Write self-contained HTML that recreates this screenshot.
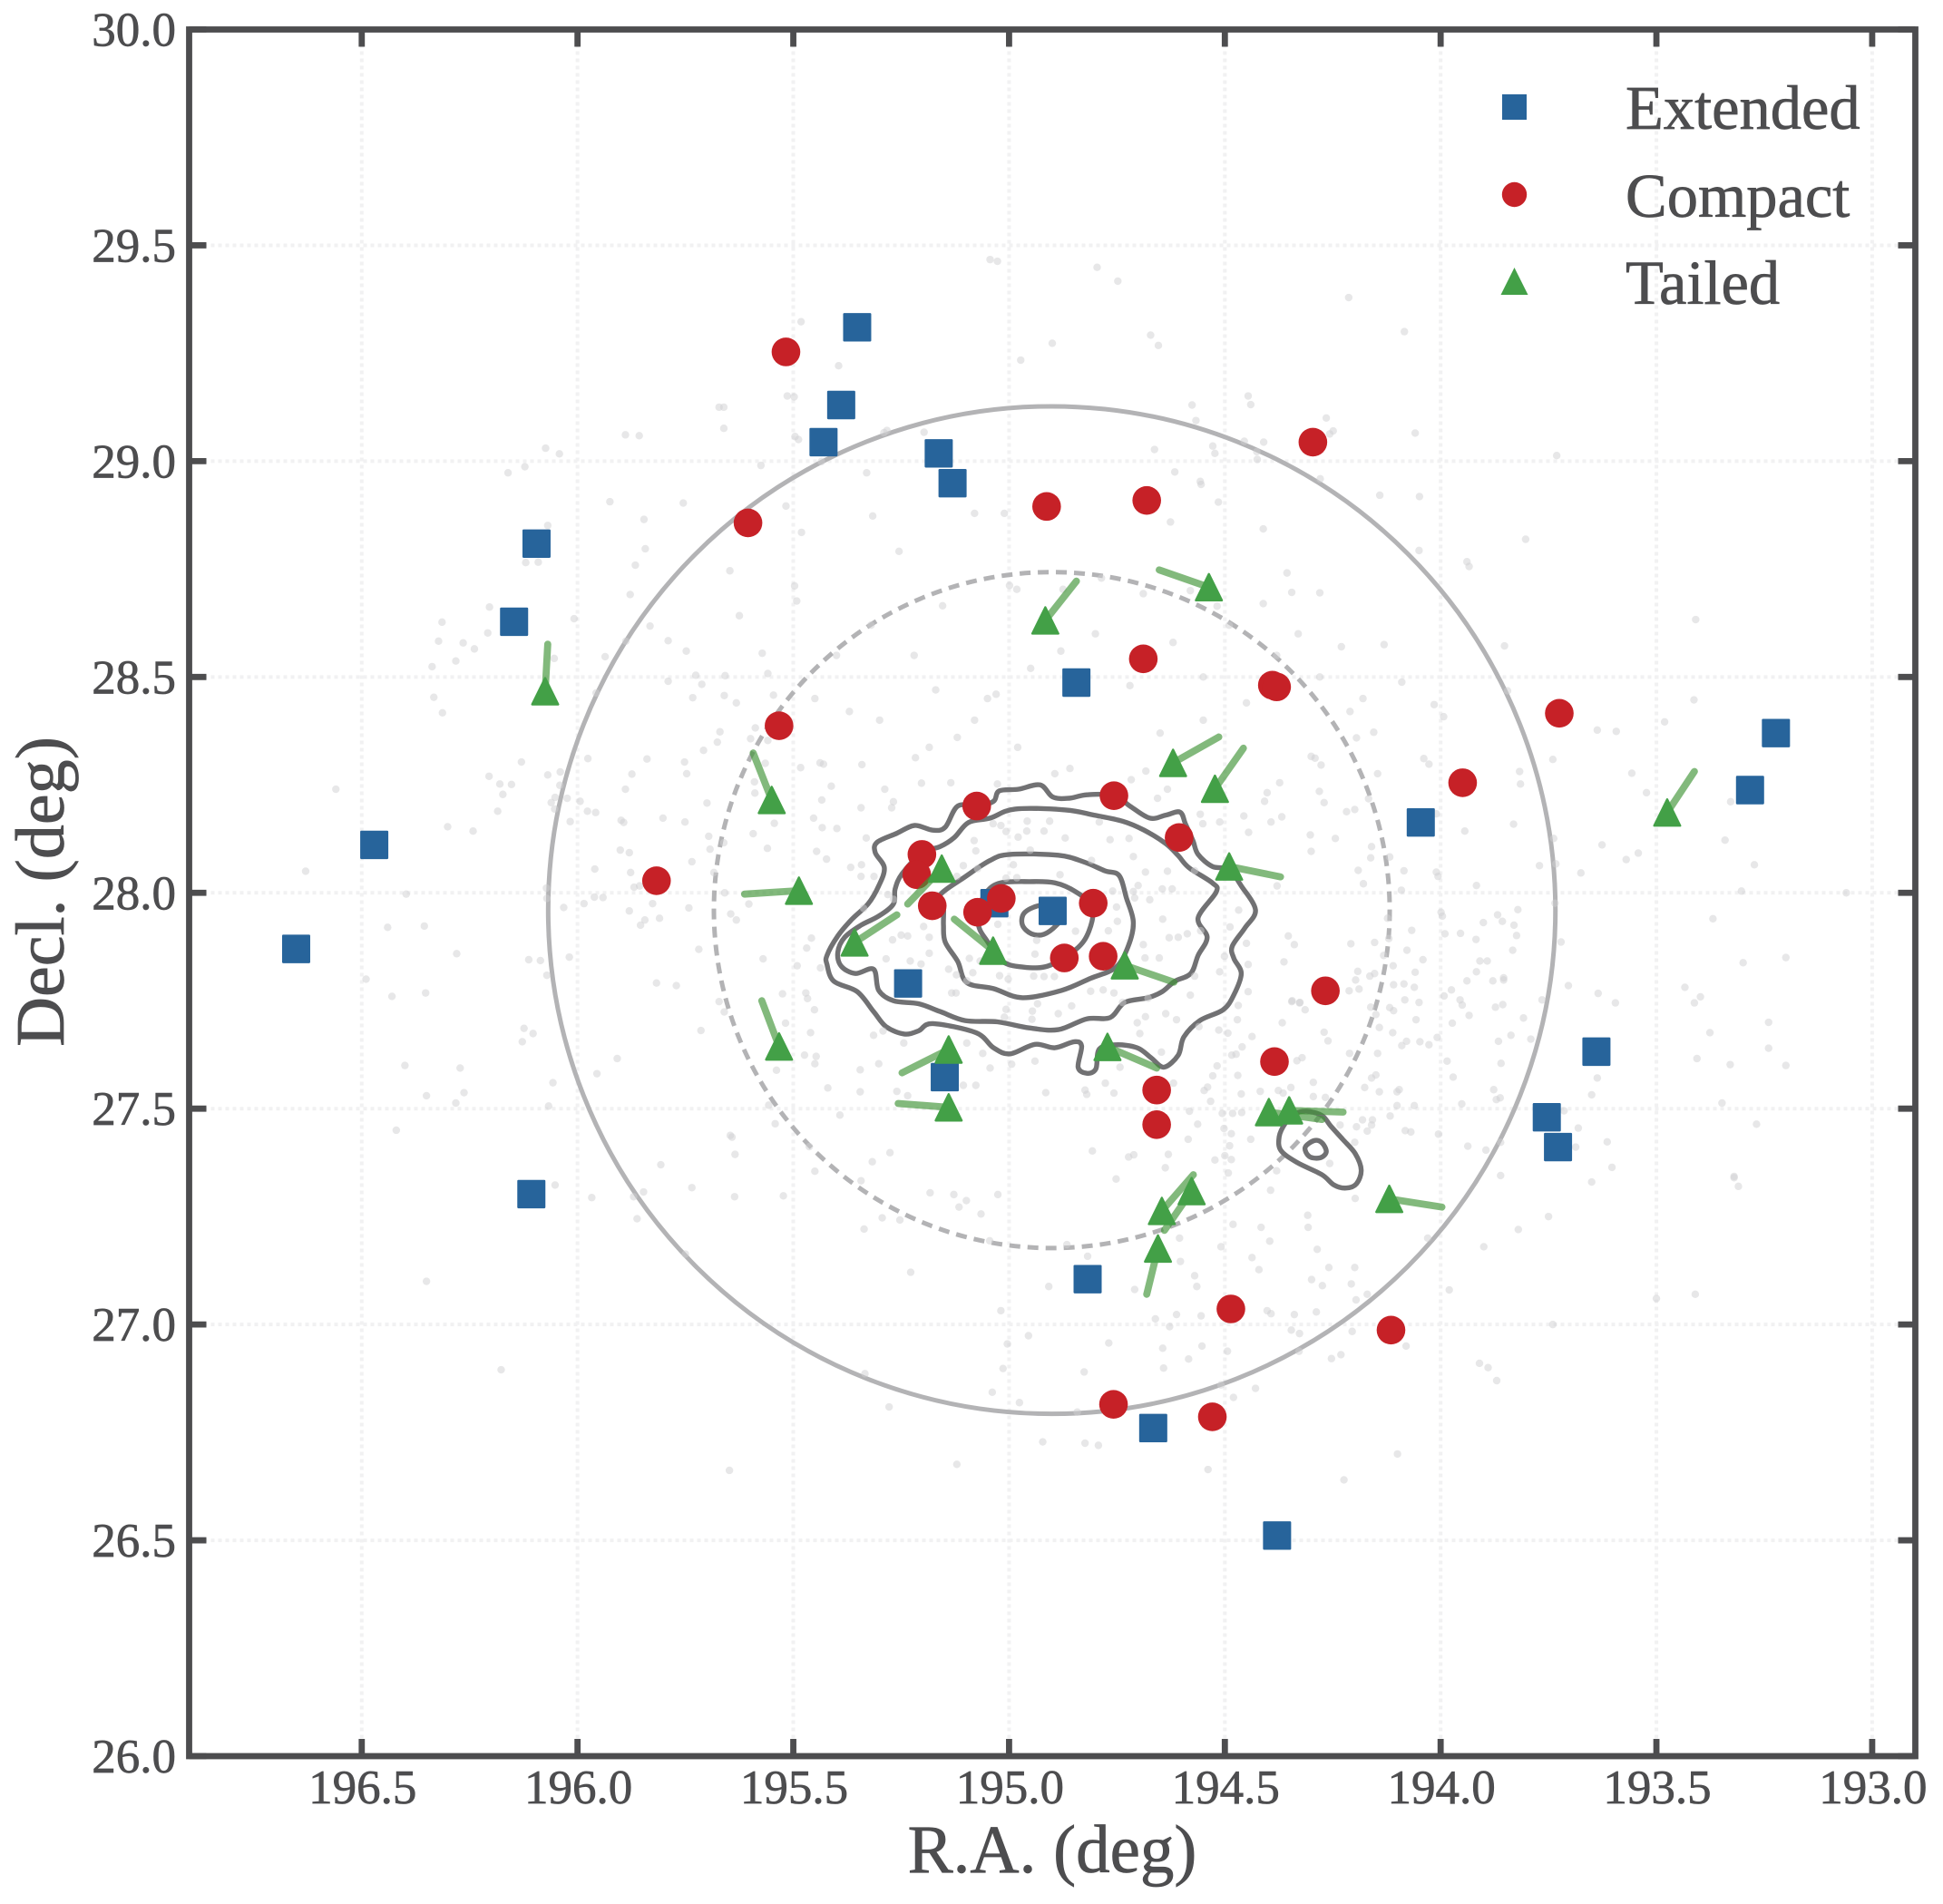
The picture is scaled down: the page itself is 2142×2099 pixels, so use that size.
<!DOCTYPE html>
<html lang="en">
<head>
<meta charset="utf-8">
<title>Galaxy positions: R.A. vs Decl.</title>
<style>
  html, body { margin: 0; padding: 0; background: #ffffff; }
  body { width: 2142px; height: 2099px; overflow: hidden; }
  svg { display: block; }
  text { font-family: "Liberation Serif", serif; fill: #4d4d4f; stroke: #4d4d4f; stroke-width: 0.7px; }
</style>
</head>
<body>
<svg id="chart" xmlns="http://www.w3.org/2000/svg" width="2142" height="2099" viewBox="0 0 2142 2099">
  <rect x="0" y="0" width="2142" height="2099" fill="#ffffff"/>
  <g id="grid"></g>
  <g id="rings"></g>
  <g id="contours"></g>
  <g id="members"></g>
  <g id="extended"></g>
  <g id="compact"></g>
  <g id="tails"></g>
  <g id="tailed"></g>
  <g id="ticks"></g>
  <rect x="208.5" y="32.5" width="1903" height="1903.5" fill="none" stroke="#4d4d4f" stroke-width="6.8"/>
  <g id="tick-labels"></g>
  <text x="1160" y="2064" font-size="75" text-anchor="middle">R.A. (deg)</text>
  <text x="0" y="0" font-size="76" text-anchor="middle" transform="translate(70 983) rotate(-90)">Decl. (deg)</text>
  <g>
    <rect x="1656" y="104" width="27" height="28" fill="#27649b"/>
    <circle cx="1669.5" cy="214.5" r="13.7" fill="#c62127"/>
    <polygon points="1669.5,295 1684.5,325 1654.5,325" fill="#43a047"/>
    <text x="1792" y="142" font-size="68.5">Extended</text>
    <text x="1792" y="239" font-size="68.5">Compact</text>
    <text x="1792" y="335" font-size="68.5">Tailed</text>
  </g>
</svg>
<script>
// ---- axis limits and ticks ----
const raLimits = [196.9, 192.9];
const decLimits = [26, 30];
const raTicks = [196.5, 196.0, 195.5, 195.0, 194.5, 194.0, 193.5, 193.0];
const raTickLabels = ["196.5", "196.0", "195.5", "195.0", "194.5", "194.0", "193.5", "193.0"];
const decTicks = [26.0, 26.5, 27.0, 27.5, 28.0, 28.5, 29.0, 29.5, 30.0];
const decTickLabels = ["26.0", "26.5", "27.0", "27.5", "28.0", "28.5", "29.0", "29.5", "30.0"];

// ---- cluster rings (deg) ----
const ringCenter = [194.901, 27.960];
const ringRadii = [1.167, 0.783];

// ---- source classes: [R.A., Decl.] ----
const extendedSources = [[195.352,29.310],[195.389,29.130],[195.430,29.044],[195.163,29.018],[195.131,28.949],[196.095,28.809],[196.147,28.628],[194.844,28.487],[193.223,28.370],[193.283,28.238],[194.046,28.163],[196.471,28.111],[196.652,27.870],[195.034,27.976],[194.899,27.958],[195.234,27.790],[195.149,27.573],[193.639,27.632],[193.754,27.480],[193.728,27.411],[196.107,27.302],[194.818,27.105],[194.666,26.760],[194.379,26.511]];
const compactSources = [[195.517,29.253],[195.605,28.857],[194.913,28.895],[194.681,28.909],[194.296,29.044],[194.689,28.542],[194.390,28.481],[194.380,28.477],[193.725,28.416],[195.533,28.387],[193.949,28.255],[195.817,28.028],[194.267,27.773],[194.385,27.609],[194.658,27.543],[194.658,27.463],[194.486,27.036],[194.115,26.987],[194.758,26.815],[194.529,26.786],[195.075,28.201],[194.757,28.225],[194.606,28.128],[195.202,28.089],[195.214,28.042],[195.178,27.970],[195.073,27.955],[195.018,27.987],[194.805,27.976],[194.872,27.849],[194.782,27.853]];
const tailedSources = [[194.537,28.708],[194.916,28.631],[196.075,28.467],[194.620,28.301],[194.523,28.241],[195.550,28.215],[193.475,28.186],[195.487,28.005],[194.490,28.061],[195.156,28.056],[195.358,27.885],[195.037,27.866],[194.732,27.832],[195.140,27.637],[194.772,27.643],[195.140,27.503],[195.533,27.644],[194.398,27.492],[194.351,27.496],[194.646,27.263],[194.577,27.309],[194.655,27.176],[194.119,27.291]];
const tailEnds = [[194.652,28.748],[194.844,28.722],[196.069,28.576],[194.514,28.361],[194.457,28.335],[195.593,28.324],[193.412,28.281],[195.613,27.997],[194.371,28.037],[195.235,27.974],[195.260,27.949],[195.127,27.939],[194.618,27.793],[195.248,27.583],[194.658,27.594],[195.257,27.512],[195.573,27.750],[194.275,27.475],[194.226,27.492],[194.573,27.347],[194.640,27.218],[194.681,27.070],[193.997,27.272]];

// ---- density contours: [R.A., Decl.] ----
const contourLevel1 = [[195.422,27.855],[195.397,27.900],[195.364,27.939],[195.327,27.974],[195.302,28.016],[195.289,28.058],[195.310,28.093],[195.306,28.117],[195.260,28.138],[195.219,28.156],[195.177,28.145],[195.148,28.152],[195.119,28.201],[195.073,28.201],[195.036,28.212],[195.023,28.236],[194.978,28.240],[194.928,28.250],[194.899,28.222],[194.861,28.219],[194.820,28.227],[194.757,28.226],[194.720,28.201],[194.674,28.173],[194.637,28.180],[194.604,28.187],[194.591,28.159],[194.574,28.121],[194.562,28.089],[194.529,28.061],[194.491,28.054],[194.462,28.016],[194.429,27.960],[194.454,27.918],[194.483,27.876],[194.479,27.848],[194.462,27.813],[194.479,27.764],[194.504,27.729],[194.558,27.704],[194.595,27.666],[194.608,27.624],[194.641,27.596],[194.670,27.617],[194.703,27.641],[194.753,27.648],[194.791,27.638],[194.799,27.592],[194.820,27.582],[194.840,27.596],[194.832,27.645],[194.849,27.655],[194.894,27.641],[194.940,27.649],[194.998,27.627],[195.036,27.641],[195.077,27.676],[195.177,27.697],[195.210,27.680],[195.243,27.673],[195.285,27.690],[195.314,27.725],[195.352,27.771],[195.406,27.795],[195.422,27.834]];
const contourLevel2 = [[195.397,27.862],[195.381,27.897],[195.343,27.925],[195.302,27.946],[195.268,27.974],[195.264,28.009],[195.248,28.044],[195.202,28.093],[195.160,28.107],[195.127,28.128],[195.094,28.163],[195.044,28.173],[194.986,28.194],[194.869,28.192],[194.803,28.180],[194.737,28.166],[194.687,28.145],[194.637,28.114],[194.608,28.086],[194.583,28.058],[194.529,28.023],[194.520,28.002],[194.562,27.942],[194.541,27.897],[194.562,27.855],[194.579,27.813],[194.616,27.795],[194.645,27.771],[194.678,27.757],[194.732,27.746],[194.766,27.711],[194.820,27.708],[194.886,27.683],[194.953,27.687],[195.027,27.701],[195.102,27.704],[195.160,27.725],[195.210,27.743],[195.268,27.750],[195.302,27.774],[195.314,27.823],[195.356,27.813],[195.389,27.830]];
const contourLevel3 = [[195.160,27.995],[195.102,28.037],[195.044,28.075],[194.998,28.089],[194.886,28.087],[194.828,28.072],[194.778,28.051],[194.745,28.040],[194.728,27.988],[194.712,27.932],[194.724,27.876],[194.753,27.827],[194.811,27.802],[194.878,27.774],[194.969,27.757],[195.036,27.778],[195.098,27.792],[195.119,27.841],[195.148,27.886],[195.152,27.925],[195.152,27.967]];
const contourLevel4 = [[195.019,28.023],[194.953,28.026],[194.894,28.023],[194.845,28.002],[194.807,27.967],[194.815,27.911],[194.845,27.869],[194.911,27.830],[194.978,27.829],[195.019,27.844],[195.052,27.890],[195.069,27.918],[195.073,27.956],[195.052,28.002]];
const contourLevel5 = [[194.932,27.970],[194.965,27.953],[194.969,27.925],[194.948,27.905],[194.919,27.904],[194.890,27.925],[194.878,27.946],[194.899,27.967]];
const contourClumpOuter = [[194.360,27.466],[194.374,27.435],[194.370,27.403],[194.332,27.375],[194.275,27.347],[194.247,27.323],[194.219,27.316],[194.195,27.326],[194.184,27.358],[194.198,27.396],[194.226,27.428],[194.254,27.459],[194.275,27.484],[194.311,27.494],[194.339,27.487]];
const contourClumpInner = [[194.293,27.426],[194.314,27.410],[194.304,27.389],[194.279,27.386],[194.265,27.400],[194.275,27.421]];

// ---- background member galaxies: [R.A., Decl.] ----
const membersWest = [[196.204,28.662],[196.314,28.627],[196.322,28.583],[196.265,28.579],[196.239,28.565],[196.208,28.602],[196.282,28.537],[196.337,28.524],[196.333,28.453],[196.313,28.417],[196.054,28.543],[196.008,28.635],[195.936,28.547],[195.878,28.691],[195.832,28.618],[195.790,28.584],[195.748,28.560],[195.888,28.583],[195.647,28.746],[195.497,28.711],[195.492,28.676],[195.625,28.642],[195.572,28.555],[195.559,28.508],[195.658,28.503],[195.726,28.504],[195.712,28.483],[195.790,28.490],[195.660,28.457],[195.733,28.452],[195.632,28.440],[195.546,28.458],[195.957,28.463],[195.588,28.382],[195.599,28.357],[195.670,28.373],[195.676,28.349],[195.559,28.353],[195.708,28.330],[195.976,28.311],[195.839,28.310],[195.752,28.303],[195.747,28.276],[195.565,28.300],[195.438,28.301],[195.430,28.298],[195.483,28.290],[196.130,28.303],[196.205,28.270],[196.180,28.252],[196.153,28.251],[196.173,28.228],[196.069,28.273],[196.040,28.280],[196.041,28.249],[195.874,28.275],[195.889,28.240],[195.590,28.257],[195.589,28.231],[195.412,28.247],[195.434,28.215],[196.052,28.221],[196.061,28.209],[196.024,28.219],[195.994,28.212],[196.053,28.194],[196.185,28.189],[195.977,28.189],[195.958,28.186],[196.017,28.165],[196.301,28.153],[196.242,28.143],[195.899,28.168],[195.893,28.163],[195.802,28.173],[195.751,28.164],[195.700,28.208],[195.544,28.161],[195.453,28.173],[195.433,28.151],[195.593,28.137],[195.696,28.131],[195.661,28.116],[195.693,28.101],[195.560,28.103],[195.446,28.096],[195.423,28.078],[195.901,28.099],[195.880,28.093],[195.735,28.072],[195.960,28.055],[195.877,28.047],[195.684,28.047],[195.869,28.013],[195.856,28.016],[196.072,28.011],[196.071,27.987],[196.397,27.997],[195.985,27.975],[195.961,27.990],[195.941,27.989],[196.032,27.966],[195.826,27.975],[195.880,27.958],[195.742,27.965],[195.659,28.000],[195.603,27.974],[195.645,27.951],[195.632,27.937],[195.810,27.941],[195.844,27.937],[195.854,27.925],[196.355,27.923],[196.280,27.859],[196.113,27.845],[196.086,27.843],[196.019,27.851],[196.071,27.809],[195.719,27.869],[195.570,27.847],[195.458,27.895],[195.469,27.872],[195.491,27.831],[195.437,27.826],[195.817,27.791],[195.771,27.785],[196.352,27.768],[195.672,27.748],[195.525,27.766],[195.471,27.768],[195.467,27.755],[195.660,27.724],[195.451,27.729]];
const membersEast = [[193.637,28.377],[193.593,28.374],[194.195,28.359],[194.155,28.372],[194.300,28.316],[194.291,28.312],[194.277,28.296],[194.039,28.311],[194.027,28.298],[194.146,28.276],[193.817,28.281],[193.815,28.252],[193.740,28.309],[193.557,28.277],[193.523,28.232],[194.281,28.235],[194.270,28.209],[194.218,28.188],[194.199,28.193],[194.167,28.218],[194.010,28.183],[193.831,28.159],[193.944,28.143],[193.328,28.211],[194.302,28.134],[194.244,28.126],[194.300,28.096],[194.160,28.107],[194.162,28.081],[194.118,28.083],[193.738,28.126],[193.626,28.111],[193.570,28.077],[193.542,28.092],[193.341,28.122],[193.771,28.063],[193.733,28.067],[193.675,28.046],[193.273,28.065],[194.191,28.052],[194.085,28.051],[194.010,28.048],[194.006,28.038],[194.179,28.021],[194.091,28.006],[193.917,28.017],[193.303,28.004],[193.735,27.976],[193.821,27.961],[193.999,27.955],[193.996,27.946],[193.868,27.949],[193.857,27.934],[193.901,27.931],[193.830,27.925],[193.369,27.940],[194.123,27.941],[194.067,27.913],[193.990,27.905],[193.954,27.906],[193.824,27.901],[193.918,27.892],[194.120,27.894],[194.208,27.882],[194.153,27.885],[193.721,27.886],[194.078,27.867],[193.833,27.867],[194.132,27.855],[194.041,27.845],[193.909,27.842],[193.892,27.842],[193.299,27.838],[194.110,27.831],[194.192,27.818],[194.153,27.813],[194.059,27.816],[193.917,27.817],[194.164,27.807],[194.197,27.798],[193.939,27.796],[193.879,27.796],[193.854,27.803],[193.854,27.798],[194.109,27.787],[194.085,27.789],[194.061,27.781],[194.212,27.773],[194.189,27.777],[193.975,27.775],[193.704,27.785],[193.434,27.781],[193.635,27.767],[193.992,27.761],[193.398,27.759],[193.412,27.745],[194.083,27.752],[193.955,27.752],[194.050,27.746],[193.950,27.740],[193.765,27.752],[193.595,27.745],[194.162,27.735],[194.118,27.734],[194.109,27.727],[193.873,27.735],[193.856,27.741],[194.150,27.718],[193.934,27.716],[194.057,27.706],[193.808,27.710],[193.973,27.698],[194.142,27.688],[194.111,27.676],[194.270,27.677],[194.261,27.657],[193.376,27.676],[193.837,27.670],[194.008,27.665],[194.079,27.656],[194.048,27.655],[194.027,27.648],[194.090,27.646],[193.866,27.656],[193.791,27.661],[194.211,27.628],[194.146,27.628],[193.985,27.610],[193.860,27.605],[193.406,27.616],[193.329,27.602],[194.150,27.578],[194.160,27.571],[193.971,27.573],[193.637,27.571],[194.295,27.561],[194.176,27.549],[194.142,27.539],[194.101,27.539],[194.096,27.544],[193.877,27.544],[193.871,27.521],[193.862,27.525],[193.650,27.532],[194.295,27.528],[194.267,27.526],[194.101,27.507],[194.061,27.507],[193.951,27.511],[193.348,27.513],[193.714,27.495],[194.117,27.483],[194.181,27.474],[194.158,27.474],[194.233,27.462],[194.195,27.458],[194.160,27.462],[193.681,27.455],[194.170,27.448],[194.082,27.449],[194.069,27.446],[194.005,27.441],[193.268,27.464],[194.199,27.422],[193.937,27.413],[193.895,27.404],[193.687,27.411],[193.614,27.423],[193.861,27.422],[194.257,27.373],[193.603,27.364],[193.861,27.345],[193.320,27.343]];
const membersSouth = [[195.183,27.305],[195.128,27.301],[195.099,27.287],[195.116,27.272],[195.026,27.301],[195.065,27.256],[195.045,27.194],[194.866,27.185],[194.818,27.158],[195.228,27.121],[194.908,27.088],[195.019,27.032],[194.709,27.081],[194.605,27.200],[194.603,27.146],[194.570,27.113],[194.565,27.088],[194.509,27.180],[194.481,27.232],[194.416,27.225],[194.394,27.311],[194.396,27.193],[194.437,27.155],[194.421,27.127],[194.308,27.253],[194.307,27.225],[194.286,27.174],[194.259,27.132],[194.198,27.292],[194.199,27.132],[194.299,27.104],[194.274,27.090],[194.207,27.094],[194.196,27.057],[194.661,27.013],[194.612,27.023],[194.555,27.020],[194.628,26.995],[194.402,27.032],[194.393,27.025],[194.339,27.023],[194.288,27.029],[194.346,26.987],[194.327,26.979],[194.205,26.984],[194.955,26.974],[195.004,26.955],[194.769,26.957],[194.644,26.945],[194.553,26.950],[194.494,26.938],[194.328,26.938],[194.584,26.920],[194.642,26.899],[194.253,26.921],[194.231,26.930],[195.014,26.898],[194.826,26.890],[195.039,26.843],[194.976,26.819],[194.842,26.797],[194.509,26.860],[194.429,26.852],[194.480,26.831],[194.922,26.728],[194.824,26.725],[194.793,26.720],[195.121,26.676],[194.539,26.664],[194.224,26.640]];
const membersNorth = [[195.044,29.467],[195.027,29.463],[194.796,29.449],[194.748,29.417],[194.213,29.379],[194.672,29.292],[194.654,29.268],[194.900,29.273],[194.973,29.234],[194.576,29.130],[194.446,29.151],[194.440,29.131],[194.567,29.094],[194.265,29.100],[194.249,29.070],[194.257,29.063],[195.197,29.067],[194.455,29.046],[194.410,29.044],[194.528,29.035],[194.523,29.018],[194.663,29.027],[194.426,29.022],[194.425,29.004],[194.616,28.975],[194.557,28.953],[194.555,28.946],[194.279,28.959],[194.515,28.905],[195.080,28.879],[195.011,28.879],[194.626,28.859],[194.411,28.843],[194.356,28.741],[194.345,28.696],[194.280,28.695],[194.999,28.712],[194.982,28.703],[194.786,28.729],[194.689,28.693],[194.580,28.700],[195.154,28.665],[194.411,28.670],[194.518,28.664],[194.875,28.703],[195.482,29.323],[195.395,29.221],[195.514,29.151],[195.498,29.149],[195.672,29.125],[195.661,29.125],[195.661,29.076],[195.889,29.061],[195.857,29.059],[196.074,29.030],[196.042,29.017],[196.122,28.987],[196.161,28.973],[195.496,29.057],[195.488,29.050],[195.435,28.999],[195.283,29.071],[195.290,29.066],[195.575,28.990],[195.330,28.973],[195.925,28.906],[195.755,28.903],[195.846,28.865],[195.517,28.896],[195.316,28.873],[196.069,28.851],[195.481,28.835],[195.843,28.797],[196.120,28.765],[196.091,28.766],[195.866,28.759],[195.255,28.791],[194.084,29.300],[194.059,29.065],[193.731,29.013],[194.141,28.921],[194.049,28.918],[193.803,28.819],[194.050,28.793],[193.939,28.767],[193.934,28.756],[194.131,28.575],[193.852,28.572],[193.409,28.633],[194.090,28.488],[193.845,28.468],[194.015,28.436],[193.993,28.408],[193.413,28.447],[193.481,28.396]];
const membersCore = [[195.185,28.337],[194.980,28.337],[195.341,28.297],[195.217,28.313],[195.288,28.240],[195.203,28.254],[195.135,28.255],[195.027,28.252],[195.268,28.211],[195.272,28.197],[195.343,28.197],[195.399,28.149],[195.019,28.156],[195.037,28.160],[194.894,28.276],[194.859,28.288],[194.683,28.282],[194.717,28.262],[194.633,28.240],[194.656,28.219],[194.557,28.182],[194.551,28.160],[194.512,28.164],[194.456,28.178],[194.393,28.164],[194.368,28.176],[194.402,28.232],[194.373,28.255],[194.445,28.140],[194.408,28.212],[195.331,28.127],[195.367,28.059],[195.342,28.065],[195.343,28.038],[195.313,28.038],[195.281,27.996],[195.268,27.985],[195.337,27.964],[195.081,28.121],[195.077,28.097],[195.106,28.063],[194.958,28.166],[194.906,28.166],[194.791,28.164],[194.959,28.143],[194.919,28.143],[195.007,28.142],[194.979,28.129],[194.870,28.127],[194.766,28.123],[194.722,28.126],[194.951,28.099],[194.712,28.084],[194.809,28.075],[194.633,28.050],[194.684,28.048],[194.570,28.051],[194.990,28.065],[195.073,28.056],[195.121,28.038],[195.007,28.034],[194.982,28.035],[194.882,28.042],[194.379,28.016],[194.701,28.017],[194.760,28.004],[194.712,28.003],[194.645,28.009],[194.622,28.009],[194.709,27.988],[194.751,27.967],[194.674,27.984],[194.468,27.960],[194.644,27.939],[194.749,27.934],[194.488,27.921],[194.587,27.905],[194.608,27.897],[194.556,27.912],[194.629,27.896],[194.353,27.900],[194.339,27.880],[194.450,27.883],[194.689,27.880],[194.846,27.911],[194.770,27.912],[195.026,27.927],[194.685,27.849],[194.652,27.849],[194.501,27.853],[194.363,27.840],[194.512,27.817],[194.446,27.834],[194.570,27.807],[194.940,27.858],[194.936,27.890],[195.092,27.848],[195.067,27.842],[195.285,27.847],[195.229,27.842],[195.204,27.835],[195.185,27.860],[195.250,27.902],[195.270,27.891],[195.235,27.900],[195.185,27.897],[195.198,27.922],[195.140,27.823],[195.084,27.815],[195.098,27.796],[195.122,27.810],[195.022,27.808],[194.943,27.807],[194.919,27.806],[194.895,27.806],[195.002,27.800],[194.811,27.772],[194.782,27.775],[194.757,27.768],[195.133,27.768],[195.123,27.768],[194.934,27.743],[194.855,27.738],[194.886,27.720],[194.946,27.726],[195.007,27.730],[195.011,27.712],[194.947,27.707],[194.737,27.746],[194.678,27.756],[194.580,27.763],[194.446,27.771],[194.344,27.750],[194.327,27.745],[195.460,27.676],[195.518,27.698],[195.314,27.670],[195.292,27.680],[195.244,27.652],[195.098,27.652],[195.061,27.628],[195.474,27.624],[195.447,27.621],[195.450,27.604],[195.302,27.604],[194.994,27.603],[194.940,27.610],[195.539,27.589],[195.345,27.590],[195.044,27.594],[195.420,27.548],[194.915,27.537],[195.077,27.554],[195.106,27.554],[195.260,27.540],[195.235,27.530],[195.345,27.539],[194.824,27.543],[194.820,27.533]];
const membersClump = [[194.703,27.699],[194.684,27.713],[194.612,27.706],[194.637,27.720],[194.697,27.674],[194.560,27.690],[194.514,27.682],[194.493,27.675],[194.471,27.706],[194.469,27.739],[194.367,27.699],[194.345,27.748],[194.326,27.746],[194.314,27.729],[194.437,27.667],[194.460,27.643],[194.484,27.624],[194.474,27.626],[194.333,27.611],[194.321,27.618],[194.647,27.631],[194.743,27.596],[194.518,27.599],[194.528,27.576],[194.470,27.577],[194.619,27.559],[194.777,27.559],[194.757,27.536],[194.548,27.542],[194.540,27.550],[194.462,27.534],[194.418,27.540],[194.376,27.542],[194.365,27.536],[194.347,27.549],[194.533,27.517],[194.582,27.494],[194.563,27.464],[194.506,27.489],[194.482,27.489],[194.461,27.491],[194.502,27.454],[194.485,27.442],[194.585,27.429],[194.489,27.414],[194.440,27.429],[194.500,27.391],[194.485,27.382],[194.523,27.381],[194.631,27.394],[194.638,27.363],[194.723,27.388],[194.711,27.393],[194.807,27.402],[194.492,27.351],[194.380,27.356],[194.752,27.337]];
const membersSouthWest = [[196.124,27.686],[196.103,27.674],[196.128,27.655],[195.714,27.681],[196.272,27.594],[195.908,27.616],[195.955,27.581],[196.057,27.560],[196.263,27.537],[196.282,27.513],[196.067,27.506],[195.557,27.508],[195.392,27.485],[195.542,27.465],[195.646,27.438],[195.642,27.434],[195.635,27.394],[195.463,27.412],[195.276,27.398],[195.807,27.370],[195.317,27.377],[195.450,27.355],[195.343,27.333],[196.052,27.323],[195.967,27.294],[195.870,27.296],[195.847,27.307],[195.735,27.317],[195.636,27.296],[195.523,27.298],[195.862,27.245],[195.294,27.247],[195.253,27.242],[195.336,27.221],[195.750,27.163],[195.334,26.886],[196.177,26.895],[195.278,26.809],[195.648,26.662]];
const membersOuterEstimate = [[196.56,28.24],[196.63,28.05],[196.49,27.80],[196.44,27.92],[196.43,27.76],[196.35,27.10],[196.40,27.60],[196.35,27.53],[196.42,27.45],[195.22,28.55],[195.17,28.47],[195.05,28.45],[195.03,28.46],[194.95,28.52],[194.88,28.56],[194.80,28.60],[194.72,28.48],[194.62,28.58],[194.55,28.50],[194.49,28.62],[194.45,28.44],[194.38,28.55],[194.33,28.60],[194.28,28.50],[194.23,28.57],[194.21,28.42],[195.32,28.62],[195.40,28.55],[195.45,28.45],[195.30,28.40],[195.12,28.36],[194.18,28.45],[195.37,28.42],[194.55,28.40],[194.65,28.37],[195.08,28.40],[193.24,27.70],[193.24,27.64],[193.20,27.60],[193.32,27.34],[193.31,27.32],[193.41,27.07],[193.20,27.85],[193.06,28.00],[193.91,26.91],[193.89,26.90],[193.87,26.87],[194.10,26.70],[194.17,27.07],[194.10,27.00],[194.08,26.95],[193.98,27.08],[193.90,27.18],[193.82,27.22],[193.74,27.00],[193.75,27.25],[194.03,27.20],[193.65,27.33],[193.50,27.06]];

// ---- axis functions ----
const plotLeft = 208.5, plotRight = 2111.5, plotTop = 32.5, plotBottom = 1936;
function xScale(ra) { return plotLeft + (raLimits[0] - ra) / (raLimits[0] - raLimits[1]) * (plotRight - plotLeft); }
function yScale(dec) { return plotBottom - (dec - decLimits[0]) / (decLimits[1] - decLimits[0]) * (plotBottom - plotTop); }

const SVG_NS = "http://www.w3.org/2000/svg";
function make(tag, parentId, attrs) {
  const el = document.createElementNS(SVG_NS, tag);
  for (const key in attrs) { el.setAttribute(key, attrs[key]); }
  document.getElementById(parentId).appendChild(el);
  return el;
}

// grid lines, ticks, tick labels
raTicks.forEach(function (tick, i) {
  const x = xScale(tick);
  const gridLine = make("line", "grid", { x1: x, x2: x, y1: plotTop, y2: plotBottom, stroke: "#f1f1f2", "stroke-width": 4, "stroke-dasharray": "4 4" });
  
  
  const tickBottom = make("line", "ticks", { x1: x, x2: x, y1: plotBottom, y2: plotBottom - 19, stroke: "#4d4d4f", "stroke-width": 6.8 });
  
  
  const tickTop = make("line", "ticks", { x1: x, x2: x, y1: plotTop, y2: plotTop + 19, stroke: "#4d4d4f", "stroke-width": 6.8 });
  
  
  const label = make("text", "tick-labels", { x: x + 1, y: 1988, "font-size": 53, "text-anchor": "middle" });
  
  
  label.textContent = raTickLabels[i];
});
decTicks.forEach(function (tick, i) {
  const y = yScale(tick);
  const gridLine = make("line", "grid", { x1: plotLeft, x2: plotRight, y1: y, y2: y, stroke: "#f1f1f2", "stroke-width": 4, "stroke-dasharray": "4 4" });
  
  
  const tickLeft = make("line", "ticks", { x1: plotLeft, x2: plotLeft + 19, y1: y, y2: y, stroke: "#4d4d4f", "stroke-width": 6.8 });
  
  
  const tickRight = make("line", "ticks", { x1: plotRight, x2: plotRight - 19, y1: y, y2: y, stroke: "#4d4d4f", "stroke-width": 6.8 });
  
  
  const label = make("text", "tick-labels", { x: 194, y: y + 18, "font-size": 53, "text-anchor": "end" });
  
  
  label.textContent = decTickLabels[i];
});

// radius rings
ringRadii.forEach(function (radius, i) {
  const attrs = {
    cx: xScale(ringCenter[0]), cy: yScale(ringCenter[1]),
    rx: Math.abs(xScale(ringCenter[0] + radius) - xScale(ringCenter[0])),
    ry: Math.abs(yScale(ringCenter[1] + radius) - yScale(ringCenter[1])),
    fill: "none", stroke: "#b3b3b5", "stroke-width": 5
  };
  if (i === 1) { attrs["stroke-dasharray"] = "12 8"; }
  const ring = make("ellipse", "rings", attrs);
  
  
});

// contours: closed Catmull-Rom curves through the read vertices
function closedCurve(points) {
  const p = points.map(function (v) { return [xScale(v[0]), yScale(v[1])]; });
  const n = p.length;
  let d = "M" + p[0][0].toFixed(1) + " " + p[0][1].toFixed(1);
  for (let i = 0; i < n; i++) {
    const p0 = p[(i - 1 + n) % n], p1 = p[i], p2 = p[(i + 1) % n], p3 = p[(i + 2) % n];
    const c1x = p1[0] + (p2[0] - p0[0]) / 6, c1y = p1[1] + (p2[1] - p0[1]) / 6;
    const c2x = p2[0] - (p3[0] - p1[0]) / 6, c2y = p2[1] - (p3[1] - p1[1]) / 6;
    d += "C" + c1x.toFixed(1) + " " + c1y.toFixed(1) + " " + c2x.toFixed(1) + " " + c2y.toFixed(1) + " " + p2[0].toFixed(1) + " " + p2[1].toFixed(1);
  }
  return d + "Z";
}
[contourLevel1, contourLevel2, contourLevel3, contourLevel4, contourLevel5, contourClumpOuter, contourClumpInner].forEach(function (level) {
  const contour = make("path", "contours", { d: closedCurve(level), fill: "none", stroke: "#717173", "stroke-width": 5.4, "stroke-linejoin": "round" });
  
  
});

// background galaxies
[membersWest, membersEast, membersSouth, membersNorth, membersCore, membersClump, membersSouthWest, membersOuterEstimate].forEach(function (group) {
  group.forEach(function (v) {
    const dot = make("circle", "members", { cx: xScale(v[0]), cy: yScale(v[1]), r: 4.2, fill: "#d0d0d2", "fill-opacity": 0.5 });
    
    
  });
});

// extended: squares
extendedSources.forEach(function (v) {
  const marker = make("rect", "extended", { x: xScale(v[0]) - 15.5, y: yScale(v[1]) - 15.7, width: 31, height: 31.4, rx: 1.2, fill: "#27649b" });
  
  
});

// compact: circles
compactSources.forEach(function (v) {
  const marker = make("circle", "compact", { cx: xScale(v[0]), cy: yScale(v[1]), r: 15.8, fill: "#c62127" });
  
  
});

// tailed: tail line from the source to its tail end, triangle on top
tailedSources.forEach(function (v, i) {
  const end = tailEnds[i];
  const tail = make("line", "tails", { x1: xScale(v[0]), y1: yScale(v[1]), x2: xScale(end[0]), y2: yScale(end[1]), stroke: "#3f9436", "stroke-opacity": 0.65, "stroke-width": 7.8, "stroke-linecap": "round" });
  
  
  const cx = xScale(v[0]), cy = yScale(v[1]);
  const marker = make("polygon", "tailed", {
    points: cx + "," + (cy - 14.5) + " " + (cx + 14.3) + "," + (cy + 14.5) + " " + (cx - 14.3) + "," + (cy + 14.5),
    fill: "#43a047", stroke: "#43a047", "stroke-width": 2.4, "stroke-linejoin": "round"
  });
  
  
});
</script>
</body>
</html>
